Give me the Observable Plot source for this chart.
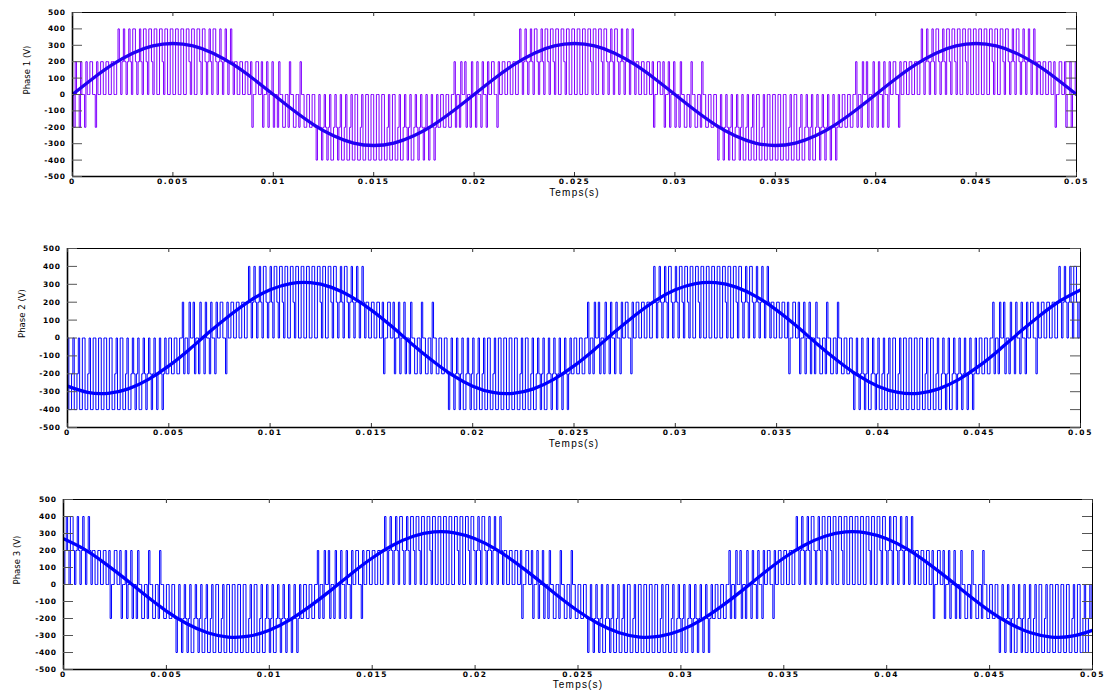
<!DOCTYPE html>
<html><head><meta charset="utf-8">
<script src="https://cdn.jsdelivr.net/npm/d3@7"></script>
<script src="https://cdn.jsdelivr.net/npm/@observablehq/plot@0.6"></script>
<style>
body{margin:0;background:#fff;}
#chart{position:relative;width:1107px;height:693px;overflow:hidden;background:#fff}
#chart svg{position:absolute;left:0;}
</style></head><body><div id="chart"></div>
<script>
// ---- data ----
const xTicks = [0, 0.005, 0.01, 0.015, 0.02, 0.025, 0.03, 0.035, 0.04, 0.045, 0.05];
const yTicks = [-500, -400, -300, -200, -100, 0, 100, 200, 300, 400, 500];

// fundamental (sine) curves, sampled every 1 ms
const sineStep = 0.001;
const phase1Sine = [0,96,183,252,296,311,296,252,183,96,0,-96,-183,-252,-296,-311,-296,-252,-183,-96,0,96,183,252,296,311,296,252,183,96,0,-96,-183,-252,-296,-311,-296,-252,-183,-96,0,96,183,252,296,311,296,252,183,96,0];
const phase2Sine = [-269,-304,-309,-284,-231,-156,-65,33,126,208,269,304,309,284,231,156,65,-33,-126,-208,-269,-304,-309,-284,-231,-156,-65,33,126,208,269,304,309,284,231,156,65,-33,-126,-208,-269,-304,-309,-284,-231,-156,-65,33,126,208,269];
const phase3Sine = [269,208,126,33,-65,-156,-231,-284,-309,-304,-269,-208,-126,-33,65,156,231,284,309,304,269,208,126,33,-65,-156,-231,-284,-309,-304,-269,-208,-126,-33,65,156,231,284,309,304,269,208,126,33,-65,-156,-231,-284,-309,-304,-269];

// PWM: one code per carrier period; each code is a pulse shape of 4 sub-steps
const carrierPeriod = 0.00026667;
const pwmLevels = [-400, -200, 0, 200, 400];
const pulseShapes = {b:"2332", c:"2343", d:"2443", e:"2442", m:"2132", n:"2312",
                     B:"2112", C:"2101", D:"2001", E:"2002"};
const phase1Codes = [
  "mmmbmbbb","cccdcddedeeeededdcdccc","bbb","nbnnn","mBmBm","BB","CCCDCDDEDEEEEDEDDCDCCCC","BB","Bnmnm",
  "mmmbmbbb","cccdcddedeeeededdcdccc","bbb","nbnnn","mBmBm","BB","CCCDCDDEDEEEEDEDDCDCCCC","BB","Bnmnm",
  "mmmbmbbb","cccdcddedeeeededdcdccc","bbb","nbnnn"
].join("");
const phase2Codes = [
  "DDEDEEEEDEDDCDCCCC","BB","Bnmnm",
  "mmmbmbbb","cccdcddedeeeededdcdccc","bbb","nbnnn","mBmBm","BB","CCCDCDDEDEEEEDEDDCDCCCC","BB","Bnmnm",
  "mmmbmbbb","cccdcddedeeeededdcdccc","bbb","nbnnn","mBmBm","BB","CCCDCDDEDEEEEDEDDCDCCCC","BB","Bnmnm",
  "mmmbmbbb","cccdc"
].join("");
const phase3Codes = [
  "cdccc","bbb","nbnnn","mBmBm","BB","CCCDCDDEDEEEEDEDDCDCCCC","BB","Bnmnm",
  "mmmbmbbb","cccdcddedeeeededdcdccc","bbb","nbnnn","mBmBm","BB","CCCDCDDEDEEEEDEDDCDCCCC","BB","Bnmnm",
  "mmmbmbbb","cccdcddedeeeededdcdccc","bbb","nbnnn","mBmBm","BB","CCCDCDDEDEEEEDEDDC"
].join("");

const yLabels = ["Phase 1 (V)", "Phase 2 (V)", "Phase 3 (V)"];
const xLabel = "Temps(s)";

// ---- build tables ----
function pwmTable(codes) {
  const rows = [];
  for (let k = 0; k < codes.length; k++) {
    const shape = pulseShapes[codes[k]];
    for (let s = 0; s < shape.length; s++) {
      rows.push({t: (k + s / shape.length) * carrierPeriod, v: pwmLevels[+shape[s]]});
    }
  }
  rows.push({t: codes.length * carrierPeriod, v: rows[rows.length - 1].v});
  return rows;
}
function sineTable(vals) { return vals.map((v, i) => ({t: i * sineStep, v})); }

const panels = [
  {top: 0,   height: 200, ml: 72, mr: 31, mt: 12, mb: 24, codes: phase1Codes, sine: phase1Sine, label: yLabels[0], pwm: "#8000ff", sin: "#2200f2", dx: -46, ldy: 12},
  {top: 232, height: 215, ml: 67, mr: 27, mt: 16, mb: 20, codes: phase2Codes, sine: phase2Sine, label: yLabels[1], pwm: "#0000ff", sin: "#0000ff", dx: -46, ldy: 12},
  {top: 478, height: 215, ml: 63, mr: 15, mt: 21, mb: 24, codes: phase3Codes, sine: phase3Sine, label: yLabels[2], pwm: "#0000ff", sin: "#0000ff", dx: -47, ldy: 11}
];

const chart = document.getElementById("chart");
const W = 1107;
for (const p of panels) {
  const pw = W - p.ml - p.mr, ph = p.height - p.mt - p.mb;
  const svg = Plot.plot({
    width: W, height: p.height,
    marginLeft: p.ml, marginRight: p.mr, marginTop: p.mt, marginBottom: p.mb,
    style: {fontFamily: "DejaVu Sans, sans-serif", overflow: "visible", background: "transparent"},
    x: {domain: [0, 0.05], axis: null, label: null},
    y: {domain: [-500, 500], axis: null, label: null},
    marks: [
      Plot.line(pwmTable(p.codes), {x: "t", y: "v", curve: "step-after", stroke: p.pwm, strokeWidth: 1, clip: true}),
      Plot.line(sineTable(p.sine), {x: "t", y: "v", curve: "natural", stroke: p.sin, strokeWidth: 3.3, clip: true}),
      Plot.frame({stroke: "#000", strokeWidth: 1}),
      Plot.ruleX([0], {stroke: "#000", strokeWidth: 1.6}),
      Plot.ruleY([-500], {stroke: "#000", strokeWidth: 1.6}),
      Plot.tickY(yTicks, {y: d => d, stroke: "#555", strokeWidth: 1, insetRight: pw - 10}),
      Plot.tickY(yTicks, {y: d => d, stroke: "#555", strokeWidth: 1, insetLeft: pw - 10}),
      Plot.tickX(xTicks, {x: d => d, stroke: "#333", strokeWidth: 1, insetBottom: ph - 4}),
      Plot.tickX(xTicks, {x: d => d, stroke: "#333", strokeWidth: 1, insetTop: ph - 4}),
      Plot.axisY(yTicks, {label: null, tickSize: 0, tickPadding: 7, tickFormat: d => String(d), fontSize: 7.5, fontWeight: "bold", fill: "#000"}),
      Plot.axisX(xTicks, {label: null, tickSize: 0, tickPadding: 2, tickFormat: d => String(d), fontSize: 7.5, fontWeight: "bold", fill: "#000"}),
      Plot.text([xLabel], {text: d => d, frameAnchor: "bottom", dy: p.ldy, lineAnchor: "top", fontSize: 10, fill: "#000", fontFamily: "Liberation Sans, Arial, sans-serif"}),
      Plot.text([p.label], {text: d => d, frameAnchor: "left", dx: p.dx, rotate: -90, fontSize: 9.5, fill: "#000", fontFamily: "Liberation Sans Narrow, DejaVu Sans Condensed, sans-serif"})
    ]
  });
  svg.style.top = p.top + "px";
  svg.querySelectorAll('g[aria-label="x-axis tick label"]').forEach(g => g.style.letterSpacing = "1.6px");
  svg.querySelectorAll('g[aria-label="y-axis tick label"]').forEach(g => g.style.letterSpacing = "0.6px");
  chart.appendChild(svg);
}
for (const svg of chart.querySelectorAll("svg")) {
  svg.querySelectorAll('g[aria-label="text"] text').forEach(t => {
    if (t.textContent === xLabel) t.style.letterSpacing = "1.2px";
  });
}
</script></body></html>
